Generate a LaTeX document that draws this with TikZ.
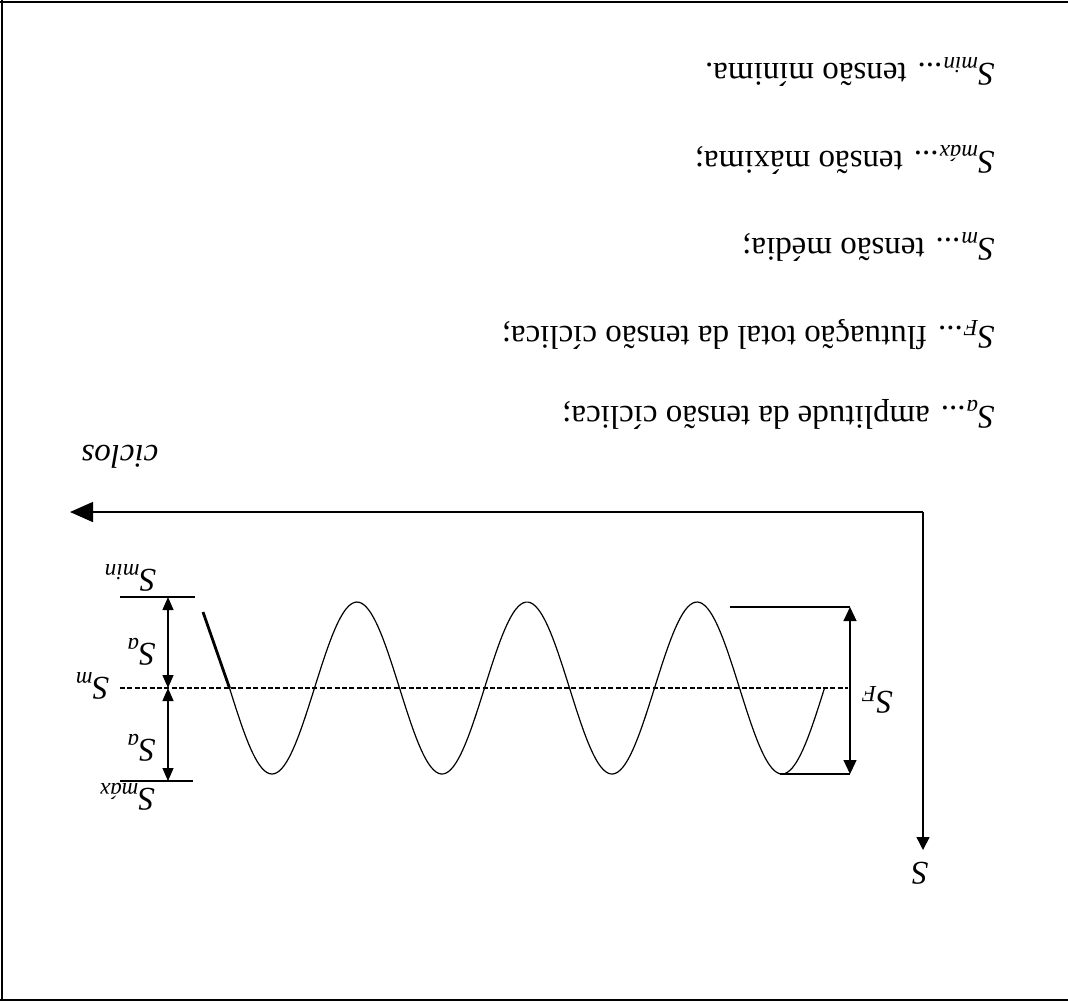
\documentclass[tikz,border=0pt]{standalone}
\usepackage{fontspec}
\setmainfont{Liberation Serif}
\usetikzlibrary{arrows.meta}
\newcommand\Sx[1]{\textit{S}\textsubscript{\textit{#1}}}
\begin{document}
\begin{tikzpicture}[x=0.5pt,y=-0.5pt,
  thinln/.style={line width=0.6pt},
  frameln/.style={line width=1pt},
  lbl/.style={rotate=180,inner sep=0pt,font=\fontsize{16.5}{19}\selectfont},
  legend/.style={rotate=180,inner sep=0pt,anchor=base west,font=\fontsize{16.5}{19}\selectfont},
  dimarrows/.style={thinln,{Triangle[length=6.5pt,width=5.5pt]}-{Triangle[length=6.5pt,width=5.5pt]}},
  sfarrows/.style={thinln,{Triangle[length=7pt,width=6.5pt]}-{Triangle[length=7pt,width=6.5pt]}},
  meanline/.style={thinln,dash pattern=on 2.5pt off 1.2pt}]
\useasboundingbox (0,0) rectangle (1068,1003);
% frame
\coordinate (fTL) at (0,2); \coordinate (fTR) at (1068,2);
\coordinate (fL1) at (2,0); \coordinate (fL2) at (2,1000);
\coordinate (fBL) at (0,1000); \coordinate (fBR) at (1068,1000);
\draw[frameln] (fTL) -- (fTR);
\draw[frameln] (fL1) -- (fL2);
\draw[frameln] (fBL) -- (fBR);
% axes
\coordinate (O) at (923,512);
\coordinate (Xend) at (70,512);
\coordinate (Yend) at (923,850);
\draw[line width=0.7pt,-{Triangle[length=11.5pt,width=10pt]}] (O) -- (Xend);
\draw[line width=0.7pt,-{Triangle[length=6.5pt,width=6.5pt]}] (O) -- (Yend);
\node[lbl] (Slab) at (920,873) {\textit{S}};
\node[lbl] (ciclos) at (120,457) {\textit{ciclos}};
% mean line
\coordinate (m1) at (120,688); \coordinate (m2) at (848,688);
\draw[meanline] (m1) -- (m2);
% Smin / Smax lines
\coordinate (min1) at (120,597); \coordinate (min2) at (195,597);
\coordinate (max1) at (120,781); \coordinate (max2) at (193,781);
\draw[line width=0.9pt] (min1) -- (min2);
\draw[line width=0.8pt] (max1) -- (max2);
% dimension arrows left
\coordinate (dTop) at (168,597); \coordinate (dMid) at (168,688); \coordinate (dBot) at (168,781);
\draw[dimarrows] (dTop) -- (dMid);
\draw[dimarrows] (dMid) -- (dBot);
\node[lbl] (Smin) at (130,578) {\Sx{min}};
\node[lbl] (Sa1) at (141,652) {\Sx{a}};
\node[lbl] (Sm) at (92,686) {\Sx{m}};
\node[lbl] (Sa2) at (141,748) {\Sx{a}};
\node[lbl] (Smax) at (127,797) {\Sx{m\'ax}};
% wave
\coordinate (w0) at (203,612); \coordinate (w1) at (229.5,688);
\draw[line width=1.4pt] (w0) -- (w1);
\draw[thinln] plot[domain=229.5:824.5,samples=240,smooth] (\x,{688-86*cos(2.117647*(\x-357))});
% SF dimension
\coordinate (fTop1) at (730,607); \coordinate (fTop2) at (850,607);
\coordinate (fBot1) at (780,774); \coordinate (fBot2) at (850,774);
\draw[line width=0.8pt] (fTop1) -- (fTop2);
\draw[thinln] (fBot1) -- (fBot2);
\draw[sfarrows] (fTop2) -- (fBot2);
\node[lbl] (SF) at (877,700) {\Sx{F}};
% legend
\node[legend] (L1) at (995,63) {\Sx{min}... tens\~ao m\'inima.};
\node[legend] (L2) at (995,151) {\Sx{m\'ax}... tens\~ao m\'axima;};
\node[legend] (L3) at (995,238) {\Sx{m}... tens\~ao m\'edia;};
\node[legend] (L4) at (995,326) {\Sx{F}... flutua\c{c}\~ao total da tens\~ao c\'iclica;};
\node[legend] (L5) at (995,406) {\Sx{a}... amplitude da tens\~ao c\'iclica;};
\end{tikzpicture}
\end{document}
